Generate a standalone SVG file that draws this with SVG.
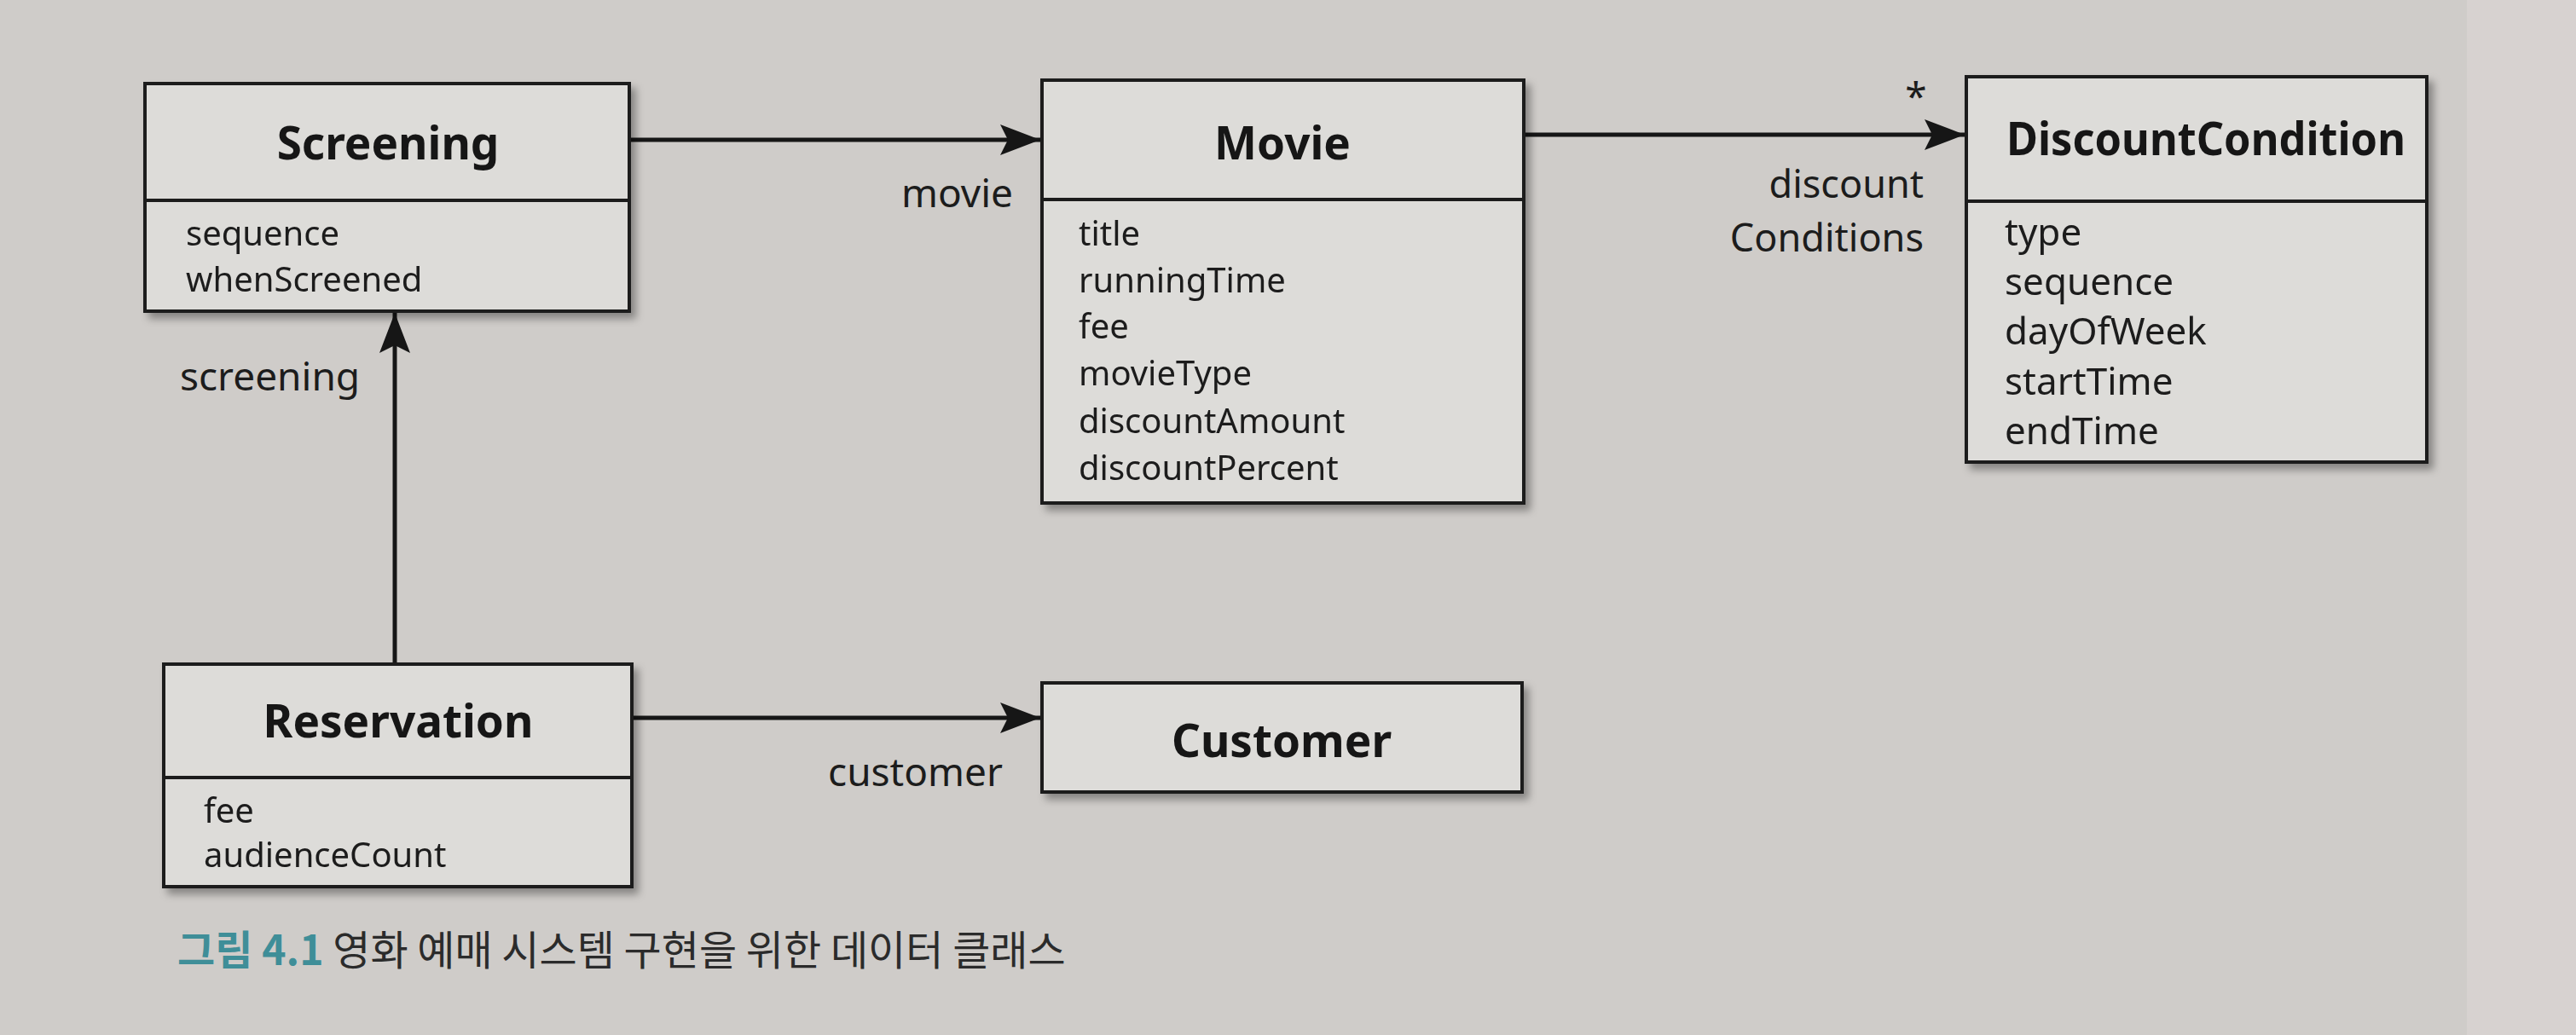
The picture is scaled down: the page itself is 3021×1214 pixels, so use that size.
<svg xmlns="http://www.w3.org/2000/svg" width="3021" height="1214" viewBox="0 0 3021 1214">
  <style>
    .box { fill: #dddcd9; stroke: #1b1b1b; stroke-width: 4; }
    .div { stroke: #1b1b1b; stroke-width: 4; }
    .title { font-family: "Noto Sans", "Open Sans", sans-serif; font-weight: bold; font-size: 53px; fill: #161616; text-anchor: middle; }
    .attr { font-family: "Noto Sans", "Open Sans", sans-serif; font-size: 40px; fill: #1c1c1c; }
    .attr-r { font-size: 44px; }
    .lbl { font-family: "Noto Sans", "Open Sans", sans-serif; font-size: 46px; fill: #1c1c1c; }
    .lbl-r { font-size: 45px; }
    .conn { stroke: #161616; stroke-width: 5; fill: none; }
    .cap { font-family: "Noto Sans CJK KR", "Noto Sans", sans-serif; font-size: 48px; fill: #2b2b2b; }
    .capnum { fill: #3f8e98; font-weight: bold; }
  </style>
  <defs>
    <marker id="arrow" markerUnits="userSpaceOnUse" markerWidth="50" markerHeight="38" refX="47" refY="18" orient="auto">
      <path d="M0,0 L47,18 L0,36 L9,18 Z" fill="#161616"/>
    </marker>
    <filter id="shadow" x="-5%" y="-5%" width="115%" height="120%">
      <feDropShadow dx="6" dy="7" stdDeviation="5" flood-color="#000" flood-opacity="0.35"/>
    </filter>
  </defs>

  <rect x="0" y="0" width="3021" height="1214" fill="#cfccc9"/>
  <rect x="2893" y="0" width="128" height="1214" fill="#d7d2d0"/>

  <g id="connectors">
    <line class="conn" x1="740" y1="164" x2="1220" y2="164" marker-end="url(#arrow)"/>
    <text class="lbl" x="1188" y="243" text-anchor="end">movie</text>

    <line class="conn" x1="1789" y1="158" x2="2304" y2="158" marker-end="url(#arrow)"/>
    <text class="lbl" x="2247" y="130" text-anchor="middle">*</text>
    <text class="lbl lbl-r" x="2256" y="232" text-anchor="end">discount</text>
    <text class="lbl lbl-r" x="2256" y="295" text-anchor="end">Conditions</text>

    <line class="conn" x1="463" y1="777" x2="463" y2="367" marker-end="url(#arrow)"/>
    <text class="lbl" x="211" y="458">screening</text>

    <line class="conn" x1="743" y1="842" x2="1220" y2="842" marker-end="url(#arrow)"/>
    <text class="lbl" x="1176" y="922" text-anchor="end">customer</text>
  </g>

  <g id="screening" filter="url(#shadow)">
    <rect class="box" x="170" y="98" width="568" height="267"/>
    <line class="div" x1="170" y1="235" x2="738" y2="235"/>
    <text class="title" x="455" y="187">Screening</text>
    <text class="attr" x="218" y="288">sequence</text>
    <text class="attr" x="218" y="342">whenScreened</text>
  </g>

  <g id="movie" filter="url(#shadow)">
    <rect class="box" x="1222" y="94" width="565" height="496"/>
    <line class="div" x1="1222" y1="234" x2="1787" y2="234"/>
    <text class="title" x="1504" y="187">Movie</text>
    <text class="attr" x="1265" y="288">title</text>
    <text class="attr" x="1265" y="343">runningTime</text>
    <text class="attr" x="1265" y="397">fee</text>
    <text class="attr" x="1265" y="452">movieType</text>
    <text class="attr" x="1265" y="508">discountAmount</text>
    <text class="attr" x="1265" y="563">discountPercent</text>
  </g>

  <g id="discountcondition" filter="url(#shadow)">
    <rect class="box" x="2306" y="90" width="540" height="452"/>
    <line class="div" x1="2306" y1="236" x2="2846" y2="236"/>
    <text class="title" x="2587" y="182" textLength="468" lengthAdjust="spacingAndGlyphs">DiscountCondition</text>
    <text class="attr attr-r" x="2351" y="288">type</text>
    <text class="attr attr-r" x="2351" y="346">sequence</text>
    <text class="attr attr-r" x="2351" y="404">dayOfWeek</text>
    <text class="attr attr-r" x="2351" y="463">startTime</text>
    <text class="attr attr-r" x="2351" y="521">endTime</text>
  </g>

  <g id="reservation" filter="url(#shadow)">
    <rect class="box" x="192" y="779" width="549" height="261"/>
    <line class="div" x1="192" y1="912" x2="741" y2="912"/>
    <text class="title" x="467" y="865">Reservation</text>
    <text class="attr" x="239" y="965">fee</text>
    <text class="attr" x="239" y="1017">audienceCount</text>
  </g>

  <g id="customer" filter="url(#shadow)">
    <rect class="box" x="1222" y="801" width="563" height="128"/>
    <text class="title" x="1503" y="888">Customer</text>
  </g>

  <text class="cap" x="208" y="1132"><tspan class="capnum">그림 4.1</tspan> 영화 예매 시스템 구현을 위한 데이터 클래스</text>
</svg>
